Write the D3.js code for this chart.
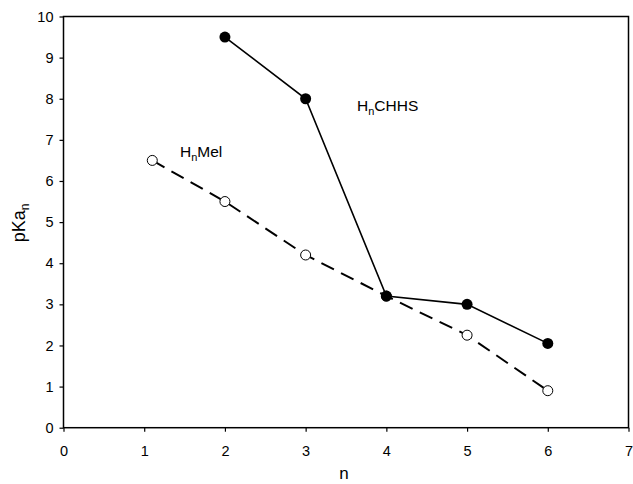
<!DOCTYPE html>
<html>
<head>
<meta charset="utf-8">
<script src="https://cdn.jsdelivr.net/npm/d3@7"></script>
<style>
  body { margin: 0; background: #fff; }
  text { font-family: "Liberation Sans", Arial, sans-serif; fill: #000; }
</style>
</head>
<body>
<svg id="chart" width="633" height="484"></svg>
<script>
// pKa values
const chhsN = [2, 3, 4, 5, 6];
const chhsPka = [9.5, 8.0, 3.2, 3.0, 2.05];
const melN = [1.1, 2, 3, 4, 5, 6];
const melPka = [6.5, 5.5, 4.2, 3.2, 2.25, 0.9];
const xTicks = [0, 1, 2, 3, 4, 5, 6, 7];
const yTicks = [0, 1, 2, 3, 4, 5, 6, 7, 8, 9, 10];

const svg = d3.select('#chart');
const plotLeft = 63.5, plotRight = 628.5, plotTop = 16.5, plotBottom = 427.7;

const x = d3.scaleLinear().domain([0, 7]).range([plotLeft, plotRight]);
const y = d3.scaleLinear().domain([0, 10]).range([plotBottom, plotTop]);

// Axes, ticks pointing outward
const xAxis = svg.append('g')
  .attr('transform', `translate(0,${plotBottom})`)
  .call(d3.axisBottom(x).tickValues(xTicks).tickFormat(d3.format('d'))
    .tickSize(4).tickPadding(14).tickSizeOuter(0));
const yAxis = svg.append('g')
  .attr('transform', `translate(${plotLeft},0)`)
  .call(d3.axisLeft(y).tickValues(yTicks).tickFormat(d3.format('d'))
    .tickSize(4).tickPadding(6).tickSizeOuter(0));

[xAxis, yAxis].forEach(function (g) {
  g.selectAll('text').style('font-size', '14.5px').attr('fill', '#000');
  g.selectAll('line').attr('stroke', '#000').attr('stroke-width', 1.2);
  g.select('.domain').remove();
});

// Frame
svg.append('rect')
  .attr('x', plotLeft).attr('y', plotTop)
  .attr('width', plotRight - plotLeft).attr('height', plotBottom - plotTop)
  .attr('fill', 'none').attr('stroke', '#000').attr('stroke-width', 1.5);

const line = d3.line()
  .x(d => x(d[0]))
  .y(d => y(d[1]));

const melData = melN.map((n, i) => [n, melPka[i]]);
const chhsData = chhsN.map((n, i) => [n, chhsPka[i]]);

// HnMel dashed series
svg.append('path')
  .datum(melData)
  .attr('d', line)
  .attr('fill', 'none')
  .attr('stroke', '#000')
  .attr('stroke-width', 2)
  .attr('stroke-dasharray', '14,8');

// HnCHHS solid series
svg.append('path')
  .datum(chhsData)
  .attr('d', line)
  .attr('fill', 'none')
  .attr('stroke', '#000')
  .attr('stroke-width', 1.6);

svg.selectAll('circle.mel')
  .data(melData)
  .enter().append('circle')
  .attr('class', 'mel')
  .attr('cx', d => x(d[0]))
  .attr('cy', d => y(d[1]))
  .attr('r', 5)
  .attr('fill', '#fff')
  .attr('stroke', '#000')
  .attr('stroke-width', 1);

svg.selectAll('circle.chhs')
  .data(chhsData)
  .enter().append('circle')
  .attr('class', 'chhs')
  .attr('cx', d => x(d[0]))
  .attr('cy', d => y(d[1]))
  .attr('r', 5.5)
  .attr('fill', '#000');

// Series labels
function seriesLabel(tx, ty, rest) {
  const t = svg.append('text')
    .attr('x', tx).attr('y', ty)
    .style('font-size', '15.5px');
  t.append('tspan').text('H');
  t.append('tspan').attr('dy', 4).style('font-size', '11px').text('n');
  t.append('tspan').attr('dy', -4).text(rest);
}
seriesLabel(357, 111, 'CHHS');
seriesLabel(180, 157, 'Mel');

// Axis titles
svg.append('text')
  .attr('x', 344).attr('y', 479)
  .attr('text-anchor', 'middle')
  .style('font-size', '17px')
  .text('n');

const yTitle = svg.append('text')
  .attr('transform', 'translate(25,223) rotate(-90)')
  .attr('text-anchor', 'middle')
  .style('font-size', '18px');
yTitle.append('tspan').text('pKa');
yTitle.append('tspan').attr('dy', 4).style('font-size', '12px').text('n');
</script>
</body>
</html>
